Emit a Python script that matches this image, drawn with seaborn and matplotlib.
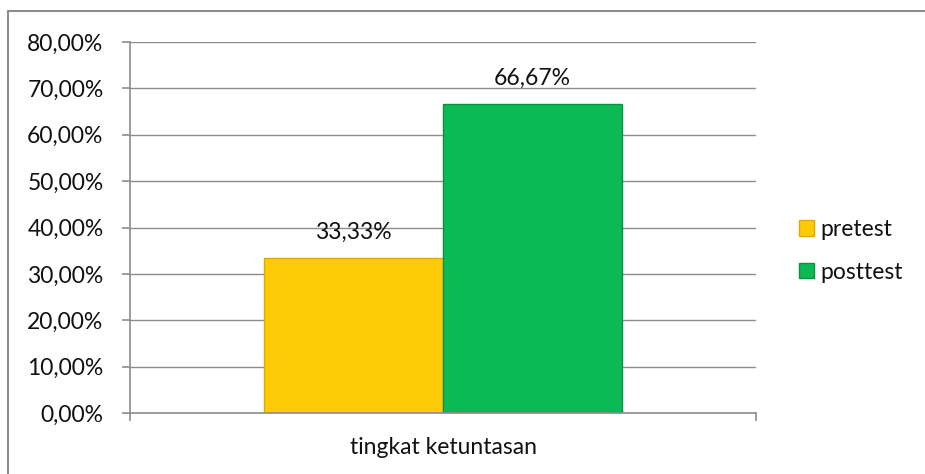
import matplotlib
matplotlib.use("Agg")
import matplotlib.pyplot as plt
import seaborn as sns
import pandas as pd
from matplotlib.ticker import FuncFormatter, MultipleLocator
from matplotlib.lines import Line2D
from matplotlib.patches import Patch

categories = ["tingkat ketuntasan"]
series = ["pretest", "posttest"]
pretest_values = [33.33]
posttest_values = [66.67]
colors = ["#FCCB05", "#0BBA55"]
edge_colors = ["#E0A800", "#079240"]

rows = []
for i, c in enumerate(categories):
    rows.append({"cat": c, "series": "pretest", "val": pretest_values[i]})
    rows.append({"cat": c, "series": "posttest", "val": posttest_values[i]})
df = pd.DataFrame(rows)

sns.set_theme(style="white")
plt.rcParams["font.family"] = ["Lato", "DejaVu Sans"]
FS = 16.5

W, H = 925, 474
fig = plt.figure(figsize=(W / 100, H / 100), dpi=100)
ax = fig.add_axes([130 / W, 1 - 413 / H, (756 - 130) / W, (413 - 42) / H])

sns.barplot(data=df, x="cat", y="val", hue="series", hue_order=series,
            palette=colors, width=0.572, gap=0, ax=ax, legend=False,
            saturation=1)

fmt = lambda v: f"{v:.2f}".replace(".", ",") + "%"
for ci, cont in enumerate(ax.containers):
    for b in cont:
        b.set_edgecolor(edge_colors[ci])
        b.set_linewidth(1.0)
    ax.bar_label(cont, labels=[fmt(b.get_height()) for b in cont],
                 padding=11, fontsize=FS, color="#111111")

ax.set_ylim(0, 80)
ax.set_xlim(-0.5, 0.5)
ax.yaxis.set_major_locator(MultipleLocator(10))
ax.yaxis.set_major_formatter(FuncFormatter(lambda v, p: f"{v:.2f}".replace(".", ",") + "%"))
ax.grid(axis="y", color="#8c8c8c", linewidth=1)
ax.set_axisbelow(True)
for s in ["top", "right"]:
    ax.spines[s].set_visible(False)
for s in ["left", "bottom"]:
    ax.spines[s].set_color("#8c8c8c")
    ax.spines[s].set_linewidth(1.2)
ax.tick_params(axis="y", direction="out", length=6, width=1.2, color="#8c8c8c",
               pad=13, labelsize=FS, labelcolor="#111111", left=True)
ax.tick_params(axis="x", which="major", length=0, pad=17, labelsize=FS, labelcolor="#111111")
ax.set_xticks([-0.5, 0.5], minor=True)
ax.tick_params(axis="x", which="minor", direction="out", length=6, width=1.2,
               color="#8c8c8c", bottom=True)
ax.set_xlabel("")
ax.set_ylabel("")

handles = [Patch(facecolor=colors[i], edgecolor=edge_colors[i], label=series[i]) for i in range(2)]
fig.legend(handles=handles, loc="center left", bbox_to_anchor=(778 / W, 1 - 251 / H),
           frameon=False, fontsize=FS, handlelength=0.65, handleheight=0.65,
           handletextpad=0.3, labelspacing=0.95, labelcolor="#111111")

fig.add_artist(Line2D([8 / W, 1], [1 - 11 / H, 1 - 11 / H], transform=fig.transFigure,
                      color="#8c8c8c", linewidth=1.5))
fig.add_artist(Line2D([8 / W, 8 / W], [0, 1 - 11 / H], transform=fig.transFigure,
                      color="#8c8c8c", linewidth=1.5))

fig.savefig("out.png", dpi=100, facecolor="white")
